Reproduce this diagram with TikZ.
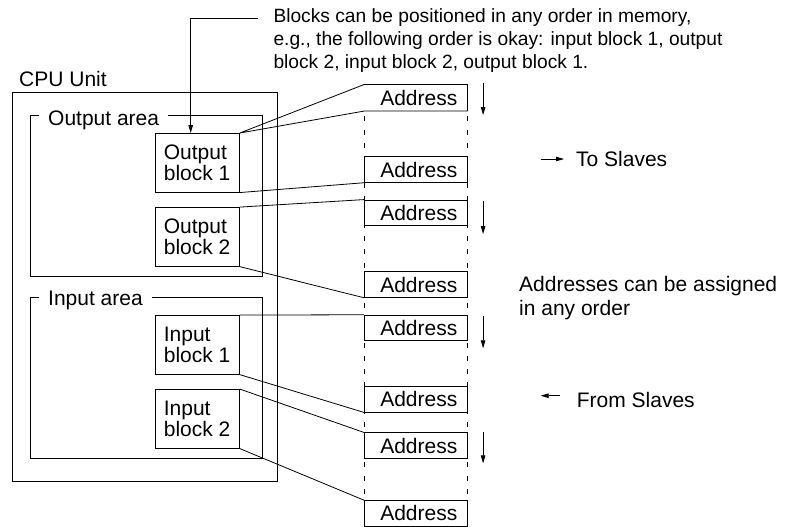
\documentclass[tikz,border=0pt]{standalone}
\usepackage{fontspec}
\setmainfont{Liberation Sans}
\usetikzlibrary{arrows.meta,calc}
\begin{document}
\begin{tikzpicture}[x=1pt,y=-1pt,
  every node/.style={font=\fontsize{21}{21.7}\selectfont},
  ln/.style={line width=0.8pt},
  blockbox/.style={draw,ln,minimum width=84.3pt,minimum height=58.7pt,inner sep=0pt,align=left},
  addrbox/.style={ln,minimum width=102.7pt,minimum height=25.7pt,inner sep=0pt,text width=83.4pt,align=right},
  areabox/.style={draw,ln,inner sep=0pt},
  arealabel/.style={fill=white,inner xsep=9pt,inner ysep=0pt,anchor=base west},
  arr/.style={ln,-{Triangle[length=8pt,width=4.5pt]}},
  dashline/.style={ln,dash pattern=on 5pt off 8.3pt,dash phase=8pt},
  plaintext/.style={inner sep=0pt,anchor=base west,align=left}
]
\useasboundingbox (0,0) rectangle (788,527);

% CPU unit and areas
\node[areabox,minimum width=265.7pt,minimum height=389pt] (cpu) at (144.85,286.5) {};
\node[plaintext] (cpulabel) at (19,86.7) {CPU Unit};
\node[areabox,minimum width=232.7pt,minimum height=161pt] (outarea) at (146.35,196.2) {};
\node[arealabel] (outlabel) at (39,125) {Output area};
\node[areabox,minimum width=232.7pt,minimum height=160.6pt] (inarea) at (146.35,378) {};
\node[arealabel] (inlabel) at (39,305) {Input area};

% blocks
\node[blockbox] (ob1) at (197.15,162.8) {Output\\block 1};
\node[blockbox] (ob2) at (197.15,236.85) {Output\\block 2};
\node[blockbox] (ib1) at (197.15,344.85) {Input\\block 1};
\node[blockbox] (ib2) at (197.15,418.8) {Input\\block 2};

% address column
\node[addrbox] (b1) at (415.65,97.85) {Address};
\node[addrbox,draw] (b2) at (415.65,169.5) {Address};
\node[addrbox,draw] (b3) at (415.65,212.85) {Address};
\node[addrbox,draw] (b4) at (415.65,284.5) {Address};
\node[addrbox,draw] (b5) at (415.65,328) {Address};
\node[addrbox,draw] (b6) at (415.65,399.15) {Address};
\node[addrbox,draw] (b7) at (415.65,445.65) {Address};
\node[addrbox,draw] (b8) at (415.65,513.4) {Address};

\draw[dashline] (b1.south west) -- (b8.north west);
\draw[dashline] (b1.south east) -- (b8.north east);

% connectors
\draw[ln] (ob1.north east) -- (b1.north west) -- (b1.north east) -- (b1.south east) -- (b1.south west) -- (ob1.north east);
\draw[ln] (ob1.south east) -- (b2.south west);
\draw[ln] (ob2.north east) -- (b3.north west);
\draw[ln] (ob2.south east) -- (b4.south west);
\draw[ln] (ib1.north east) -- (b5.north west);
\draw[ln] (ib1.south east) -- (b6.south west);
\draw[ln] (ib2.north east) -- (b7.north west);
\draw[ln] (ib2.south east) -- (b8.north west);

% down arrows
\draw[arr] ([xshift=15.7pt,yshift=1.5pt]b1.north east) -- ++(0,32);
\draw[arr] ([xshift=15.7pt,yshift=-1.5pt]b3.north east) -- ++(0,33);
\draw[arr] ([xshift=15.7pt,yshift=-1.5pt]b5.north east) -- ++(0,32);
\draw[arr] ([xshift=15.7pt]b7.north east) -- ++(0,31);

% annotation (base anchor = baseline of last line)
\node[plaintext,font=\fontsize{19.2}{23.5}\selectfont] (note) at (273.3,69) {Blocks can be positioned in any order in memory,\\e.g., the following order is okay: input block 1, output\\block 2, input block 2, output block 1.};
\coordinate (annstart) at (258.3,18.3);
\draw[arr] (annstart) -| ([xshift=-6.45pt]ob1.north);

% right-hand notes
\node[plaintext] (toslaves) at (576,166) {To Slaves};
\coordinate (tsarrow) at (540.7,159);
\draw[arr] (tsarrow) -- ++(23.3,0);
\node[plaintext,font=\fontsize{21}{23.4}\selectfont] (anyorder) at (519,315.1) {Addresses can be assigned\\in any order};
\node[plaintext] (fromslaves) at (576.7,407.7) {From Slaves};
\coordinate (fsarrow) at (560,395.7);
\draw[arr] (fsarrow) -- ++(-19.3,0);
\end{tikzpicture}
\end{document}
